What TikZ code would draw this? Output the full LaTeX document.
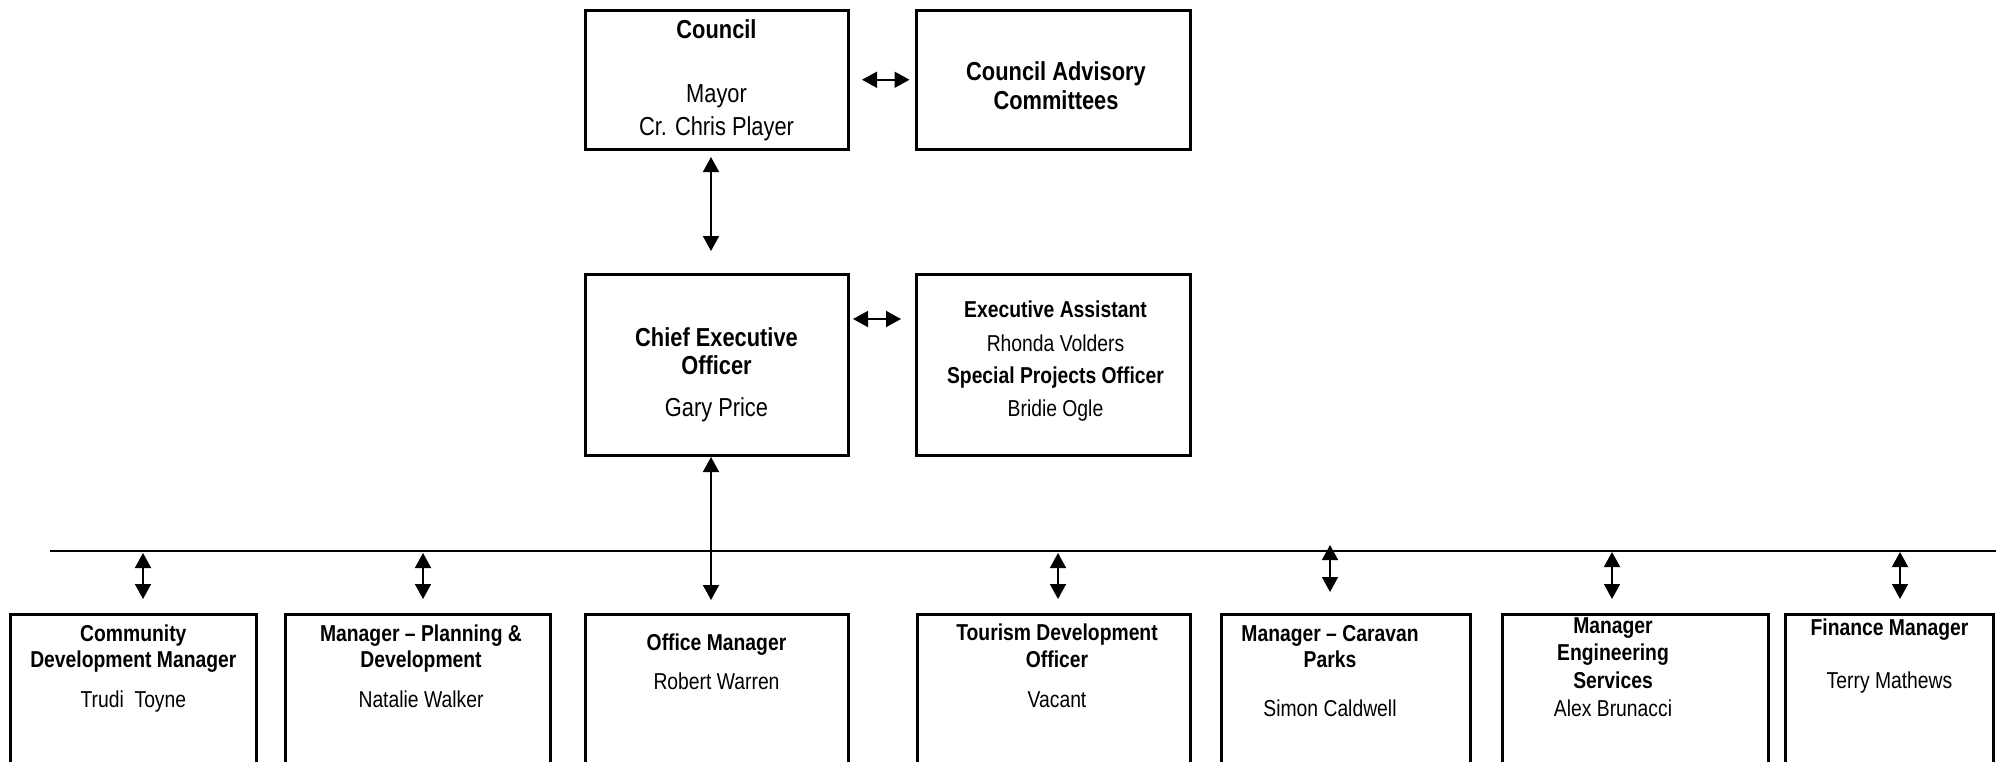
\documentclass[tikz,border=0pt]{standalone}
\usepackage{fontspec}
\setmainfont[FakeStretch=0.84]{Liberation Sans}
\usetikzlibrary{arrows.meta}
\newcommand{\bigf}{\fontsize{13}{16}\selectfont}
\newcommand{\midf}{\fontsize{11.5}{14}\selectfont}
\tikzset{
  bx/.style={draw, line width=1.5pt, inner sep=0pt},
  tb/.style={anchor=base, inner sep=0pt, font=\bigf\bfseries},
  tr/.style={anchor=base, inner sep=0pt, font=\bigf},
  sb/.style={anchor=base, inner sep=0pt, font=\midf\bfseries},
  sr/.style={anchor=base, inner sep=0pt, font=\midf},
  arr/.style={line width=0.85pt, {Triangle[length=7.5pt,width=8pt]}-{Triangle[length=7.5pt,width=8pt]}},
  bus/.style={line width=0.75pt}
}
\begin{document}
\begin{tikzpicture}[x=0.5pt,y=-0.5pt]
\useasboundingbox (0,0) rectangle (2001,761);
\clip (0,0) rectangle (2001,761);
% top row
\node[bx, minimum width=131.5pt, minimum height=69.25pt] (council) at (716.5,79.75) {};
\node[bx, minimum width=136.75pt, minimum height=69.25pt] (advisory) at (1053.25,79.75) {};
\node[tb] (council-t1) at (716.5,38) {Council};
\node[tr] (council-t2) at (716.5,102) {Mayor};
\node[tr] (council-t3) at (716.5,135) {Cr. Chris Player};
\node[tb] (advisory-t1) at (1056,80) {Council Advisory};
\node[tb] (advisory-t2) at (1056,109) {Committees};
% second row
\node[bx, minimum width=131.5pt, minimum height=90.5pt] (ceo) at (716.5,364.5) {};
\node[bx, minimum width=136.75pt, minimum height=90.5pt] (ea) at (1053.25,364.5) {};
\node[tb] (ceo-t1) at (716.5,346) {Chief Executive};
\node[tb] (ceo-t2) at (716.5,374) {Officer};
\node[tr] (ceo-t3) at (716.5,416) {Gary Price};
\node[sb] (ea-t1) at (1055.5,317) {Executive Assistant};
\node[sr] (ea-t2) at (1055.5,351) {Rhonda Volders};
\node[sb] (ea-t3) at (1055.5,383) {Special Projects Officer};
\node[sr] (ea-t4) at (1055.5,416) {Bridie Ogle};
% bottom row
\node[bx, minimum width=122.65pt, minimum height=102.75pt] (b1) at (133.35,717.25) {};
\node[bx, minimum width=132.5pt, minimum height=102.75pt] (b2) at (418,717.25) {};
\node[bx, minimum width=131.5pt, minimum height=102.75pt] (b3) at (716.5,717.25) {};
\node[bx, minimum width=136.5pt, minimum height=102.75pt] (b4) at (1053.5,717.25) {};
\node[bx, minimum width=124.5pt, minimum height=102.75pt] (b5) at (1345.5,717.25) {};
\node[bx, minimum width=133pt, minimum height=102.75pt] (b6) at (1635,717.25) {};
\node[bx, minimum width=104pt, minimum height=102.75pt] (b7) at (1889.5,717.25) {};
\node[sb] (b1-t1) at (133.35,641) {Community};
\node[sb] (b1-t2) at (133.35,667) {Development Manager};
\node[sr] (b1-t3) at (133.35,707) {Trudi\ \ Toyne};
\node[sb] (b2-t1) at (421,641) {Manager – Planning \&};
\node[sb] (b2-t2) at (421,667) {Development};
\node[sr] (b2-t3) at (421,707) {Natalie Walker};
\node[sb] (b3-t1) at (716.5,650.5) {Office Manager};
\node[sr] (b3-t2) at (716.5,689) {Robert Warren};
\node[sb] (b4-t1) at (1057,640.5) {Tourism Development};
\node[sb] (b4-t2) at (1057,667) {Officer};
\node[sr] (b4-t3) at (1057,707) {Vacant};
\node[sb] (b5-t1) at (1330,641.5) {Manager – Caravan};
\node[sb] (b5-t2) at (1330,667) {Parks};
\node[sr] (b5-t3) at (1330,716.5) {Simon Caldwell};
\node[sb] (b6-t1) at (1613,633) {Manager};
\node[sb] (b6-t2) at (1613,660) {Engineering};
\node[sb] (b6-t3) at (1613,688) {Services};
\node[sr] (b6-t4) at (1613,716.5) {Alex Brunacci};
\node[sb] (b7-t1) at (1889.5,635) {Finance Manager};
\node[sr] (b7-t2) at (1889.5,688) {Terry Mathews};
% connectors
\draw[arr, shorten <=6.25pt, shorten >=2.75pt] (council.east) -- (advisory.west);
\draw[arr, shorten <=1.75pt, shorten >=7pt] ([yshift=22.75pt]ceo.east) -- ([yshift=22.75pt]ea.west);
\draw[arr, shorten <=3.25pt, shorten >=10.75pt] ([xshift=-2.75pt]council.south) -- ([xshift=-2.75pt]ceo.north);
\draw[arr, shorten <=0.25pt, shorten >=6.5pt] ([xshift=-2.75pt]ceo.south) -- ([xshift=-2.75pt]b3.north);
% bus
\coordinate (busL) at (50,551);
\coordinate (busR) at (1996,551);
\draw[bus] (busL) -- (busR);
\coordinate (a1) at (143,553);
\coordinate (a2) at (423,553);
\coordinate (a4) at (1058,553);
\coordinate (a5) at (1330,545);
\coordinate (a6) at (1612,552);
\coordinate (a7) at (1900,552);
\draw[arr, shorten >=7pt] (a1) -- (a1 |- b1.north);
\draw[arr, shorten >=7pt] (a2) -- (a2 |- b2.north);
\draw[arr, shorten >=7pt] (a4) -- (a4 |- b4.north);
\draw[arr, shorten >=10.5pt] (a5) -- (a5 |- b5.north);
\draw[arr, shorten >=7pt] (a6) -- (a6 |- b6.north);
\draw[arr, shorten >=7pt] (a7) -- (a7 |- b7.north);
\end{tikzpicture}
\end{document}
